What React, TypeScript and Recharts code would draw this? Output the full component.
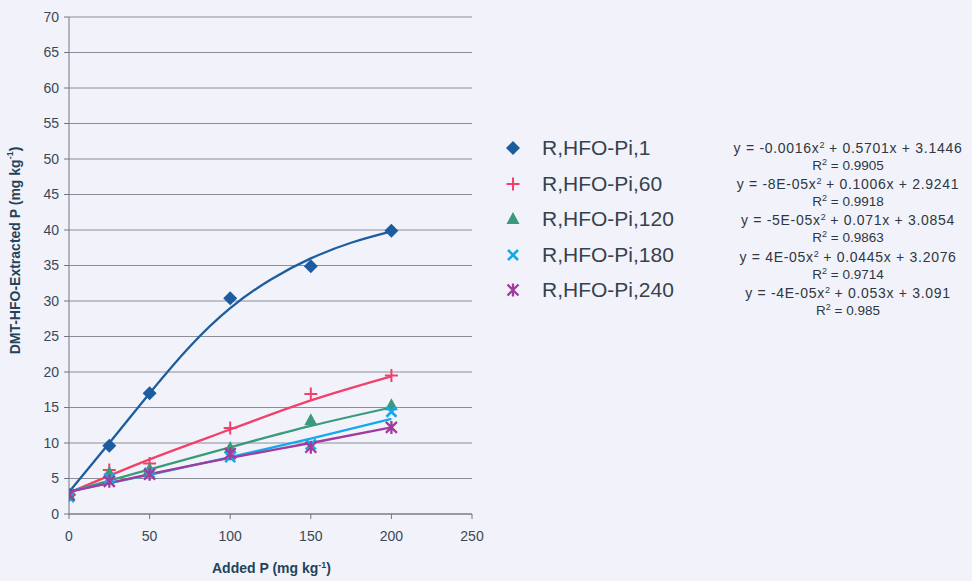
import React from 'react';
import {
  ComposedChart,
  CartesianGrid,
  XAxis,
  YAxis,
  Label,
  Line,
  Scatter,
} from 'recharts';

// measured extraction per added P level
const addedP = [0, 25, 50, 100, 150, 200];
const pi1 = [2.7, 9.6, 17.0, 30.4, 34.9, 39.9];
const pi60 = [2.7, 6.2, 7.1, 12.1, 16.9, 19.5];
const pi120 = [2.6, 5.8, 6.3, 9.3, 13.2, 15.3];
const pi180 = [2.4, 5.0, 5.8, 8.0, 9.8, 14.4];
const pi240 = [2.7, 4.6, 5.6, 8.5, 9.4, 12.2];

// polynomial trend curves
const trendP1 = [0, 25, 50, 75, 100, 125, 150, 175, 200];
const trend1 = [3.1, 10.0, 17.0, 23.6, 29.0, 33.0, 36.0, 38.2, 39.8];
const trendP = [0, 50, 100, 150, 200];
const trend60 = [3.0, 7.7, 11.9, 16.0, 19.4];
const trend120 = [3.1, 6.3, 9.4, 12.4, 15.0];
const trend180 = [3.2, 5.5, 8.0, 10.6, 13.4];
const trend240 = [3.1, 5.6, 7.9, 10.0, 12.2];

const seriesNames = ['R,HFO-Pi,1', 'R,HFO-Pi,60', 'R,HFO-Pi,120', 'R,HFO-Pi,180', 'R,HFO-Pi,240'];
const eqA = ['-0.0016', '-8E-05', '-5E-05', '4E-05', '-4E-05'];
const eqB = ['0.5701', '0.1006', '0.071', '0.0445', '0.053'];
const eqC = ['3.1446', '2.9241', '3.0854', '3.2076', '3.091'];
const rSquared = ['0.9905', '0.9918', '0.9863', '0.9714', '0.985'];

const xTicks = [0, 50, 100, 150, 200, 250];
const yTicks = [0, 5, 10, 15, 20, 25, 30, 35, 40, 45, 50, 55, 60, 65, 70];

const colors = ['#1d5c9e', '#f2406a', '#3a9a7c', '#14a9ee', '#a13c9c'];
const FONT = '"Liberation Sans", Arial, sans-serif';
const BG = '#f2f3fa';

const toPoints = (xs: number[], ys: number[]) => xs.map((x, i) => ({ x, y: ys[i] }));

const Diamond = ({ cx, cy, fill }: any) => (
  <path d={`M${cx},${cy - 7}L${cx + 7},${cy}L${cx},${cy + 7}L${cx - 7},${cy}Z`} fill={fill} />
);
const Plus = ({ cx, cy, fill }: any) => (
  <path d={`M${cx - 6.5},${cy}H${cx + 6.5}M${cx},${cy - 6.5}V${cy + 6.5}`} stroke={fill} strokeWidth={2} />
);
const Triangle = ({ cx, cy, fill }: any) => (
  <path d={`M${cx},${cy - 7}L${cx + 6.5},${cy + 5}L${cx - 6.5},${cy + 5}Z`} fill={fill} />
);
const Cross = ({ cx, cy, fill }: any) => (
  <path
    d={`M${cx - 5},${cy - 5}L${cx + 5},${cy + 5}M${cx + 5},${cy - 5}L${cx - 5},${cy + 5}`}
    stroke={fill}
    strokeWidth={2.6}
  />
);
const Star = ({ cx, cy, fill }: any) => (
  <path
    d={`M${cx - 5.5},${cy - 5.5}L${cx + 5.5},${cy + 5.5}M${cx + 5.5},${cy - 5.5}L${cx - 5.5},${cy + 5.5}M${cx},${cy - 6.5}V${cy + 6.5}`}
    stroke={fill}
    strokeWidth={2.3}
  />
);
const shapes = [Diamond, Plus, Triangle, Cross, Star];

const yTitle = (props: any) => {
  const { x, y, height } = props.viewBox;
  const cx = x - 2;
  const cy = y + height / 2 - 15;
  return (
    <text
      x={cx}
      y={cy}
      transform={`rotate(-90 ${cx} ${cy})`}
      textAnchor="middle"
      dominantBaseline="central"
      fontFamily={FONT}
      fontSize={14}
      fontWeight="bold"
      fill="#23435a"
    >
      DMT-HFO-Extracted P (mg kg
      <tspan dy={-5} fontSize={9}>-1</tspan>
      <tspan dy={5}>)</tspan>
    </text>
  );
};

const xTitle = (props: any) => {
  const { x, y, width } = props.viewBox;
  return (
    <text
      x={x + width / 2 + 1}
      y={y + 59}
      textAnchor="middle"
      fontFamily={FONT}
      fontSize={14}
      fontWeight="bold"
      fill="#23435a"
    >
      Added P (mg kg
      <tspan dy={-5} fontSize={9}>-1</tspan>
      <tspan dy={5}>)</tspan>
    </text>
  );
};

const scatterData = [pi1, pi60, pi120, pi180, pi240].map((ys) => toPoints(addedP, ys));
const trendData = [
  toPoints(trendP1, trend1),
  toPoints(trendP, trend60),
  toPoints(trendP, trend120),
  toPoints(trendP, trend180),
  toPoints(trendP, trend240),
];

const Sup = ({ children }: any) => (
  <span style={{ fontSize: 9, position: 'relative', top: -5, letterSpacing: 0 }}>{children}</span>
);

export default function App() {
  const tickStyle = { fontFamily: FONT, fontSize: 14, fill: '#3a4856' };
  return (
    <div style={{ position: 'absolute', left: 0, top: 0, width: 972, height: 581, background: BG }}>
      <ComposedChart width={972} height={581} margin={{ top: 17, right: 500, bottom: 37, left: 17 }}>
        <CartesianGrid vertical={false} stroke="#8a8e98" />
        <XAxis
          type="number"
          dataKey="x"
          domain={[0, 250]}
          ticks={xTicks}
          height={30}
          tick={tickStyle}
          tickSize={5}
          tickMargin={12}
          stroke="#6f7682"
          allowDataOverflow
        >
          <Label content={xTitle} />
        </XAxis>
        <YAxis
          type="number"
          dataKey="y"
          domain={[0, 70]}
          ticks={yTicks}
          width={52}
          tick={tickStyle}
          tickSize={5}
          tickMargin={5}
          stroke="#6f7682"
          interval={0}
          allowDataOverflow
        >
          <Label content={yTitle} />
        </YAxis>
        <YAxis
          yAxisId="frame"
          orientation="right"
          width={0}
          domain={[0, 70]}
          tick={false}
          tickLine={false}
          stroke="#9a9ea8"
        />
        {trendData.map((d, i) => (
          <Line
            key={`t${i}`}
            data={d}
            dataKey="y"
            type="natural"
            stroke={colors[i]}
            strokeWidth={2.3}
            dot={false}
            activeDot={false}
            isAnimationActive={false}
          />
        ))}
        {scatterData.map((d, i) => {
          const Shape = shapes[i];
          return (
            <Scatter
              key={`s${i}`}
              data={d}
              fill={colors[i]}
              shape={(p: any) => <Shape cx={p.cx} cy={p.cy} fill={colors[i]} />}
              isAnimationActive={false}
            />
          );
        })}
      </ComposedChart>

      {seriesNames.map((name, i) => {
        const Shape = shapes[i];
        const cy = 148 + i * 35.6;
        return (
          <div key={name}>
            <svg
              width={20}
              height={20}
              style={{ position: 'absolute', left: 503, top: cy - 10 }}
            >
              <Shape cx={10} cy={10} fill={colors[i]} />
            </svg>
            <div
              style={{
                position: 'absolute',
                left: 542,
                top: cy - 13,
                fontFamily: FONT,
                fontSize: 21,
                lineHeight: '26px',
                color: '#37414c',
                whiteSpace: 'nowrap',
              }}
            >
              {name}
            </div>
          </div>
        );
      })}

      {eqA.map((a, i) => {
        const top = 148 + i * 36.2;
        const lineStyle: React.CSSProperties = {
          position: 'absolute',
          left: 698,
          width: 300,
          textAlign: 'center',
          fontFamily: FONT,
          lineHeight: '18px',
          color: '#2e3742',
          whiteSpace: 'nowrap',
        };
        return (
          <div key={`eq${i}`}>
            <div style={{ ...lineStyle, top: top - 9, fontSize: 14, letterSpacing: 0.7 }}>
              y = {a}x<Sup>2</Sup> + {eqB[i]}x + {eqC[i]}
            </div>
            <div style={{ ...lineStyle, top: top + 9, fontSize: 13.5 }}>
              R<Sup>2</Sup> = {rSquared[i]}
            </div>
          </div>
        );
      })}
    </div>
  );
}
